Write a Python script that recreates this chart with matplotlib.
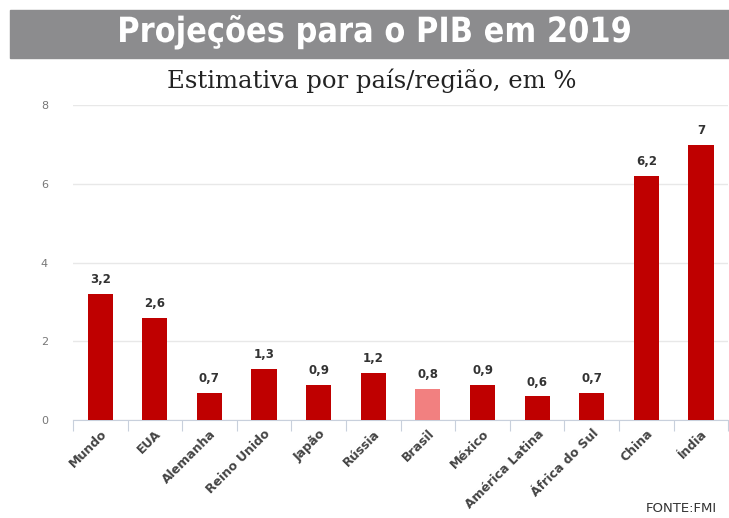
import matplotlib.pyplot as plt
import matplotlib.transforms as mtransforms
from matplotlib.patches import Rectangle, PathPatch
from matplotlib.textpath import TextPath
from matplotlib.font_manager import FontProperties

paises = ['Mundo', 'EUA', 'Alemanha', 'Reino Unido', 'Japão', 'Rússia', 'Brasil',
          'México', 'América Latina', 'África do Sul', 'China', 'Índia']
pib = [3.2, 2.6, 0.7, 1.3, 0.9, 1.2, 0.8, 0.9, 0.6, 0.7, 6.2, 7.0]
rotulos = ['3,2', '2,6', '0,7', '1,3', '0,9', '1,2', '0,8', '0,9', '0,6', '0,7', '6,2', '7']
cores = ['#bf0000'] * 12
cores[6] = '#f28080'

titulo = 'Projeções para o PIB em 2019'

fig = plt.figure(figsize=(7.29, 5.18), dpi=100)

# Faixa cinza do título
fig.patches.append(Rectangle((0.014, 0.888), 0.986, 0.093, transform=fig.transFigure,
                             color='#8c8c8e', zorder=0))

# Título em fonte "condensada": caminho do texto comprimido na horizontal
tp = TextPath((0, 0), titulo, size=25, prop=FontProperties(family='DejaVu Sans', weight='bold'))
bb = tp.get_extents()
k = fig.dpi / 72.0
sx = 0.88
x0 = 375 - bb.width * k * sx / 2 - bb.x0 * k * sx
tr = mtransforms.Affine2D().scale(k * sx, k).translate(x0, 518 - 42)
fig.add_artist(PathPatch(tp, transform=tr, facecolor='white', lw=0, zorder=2))

fig.text(0.51, 0.845, 'Estimativa por país/região, em %', ha='center', va='center',
         color='#222222', fontsize=17.5, family='DejaVu Serif')

ax = fig.add_axes([0.100, 0.189, 0.899, 0.608])
x = range(len(paises))
ax.bar(x, pib, width=0.46, color=cores, zorder=3)
for xi, v, r in zip(x, pib, rotulos):
    ax.text(xi, v + 0.2, r, ha='center', va='bottom', fontsize=8.5,
            fontweight='bold', color='#333333')

ax.set_xlim(-0.5, 11.5)
ax.set_ylim(0, 8)
ax.set_yticks([0, 2, 4, 6, 8])
ax.tick_params(axis='y', length=0, labelsize=8, labelcolor='#777777', pad=18)
ax.grid(axis='y', color='#e8e8e8', linewidth=1, zorder=0)
for s in ['top', 'right', 'left']:
    ax.spines[s].set_visible(False)
ax.spines['bottom'].set_color('#c8d0dc')

ax.set_xticks([i - 0.5 for i in range(13)], minor=False)
ax.set_xticklabels([])
ax.tick_params(axis='x', length=8, color='#c8d0dc')
ax.set_xticks(list(x), minor=True)
ax.set_xticklabels(paises, minor=True, rotation=45, ha='right', rotation_mode='anchor',
                   fontsize=9, fontweight='bold', color='#444444')
ax.tick_params(axis='x', which='minor', length=0, pad=5)

fig.text(0.984, 0.006, 'FONTE:FMI', ha='right', va='bottom', fontsize=9.5, color='#333333')

fig.savefig('out.png', dpi=100)
